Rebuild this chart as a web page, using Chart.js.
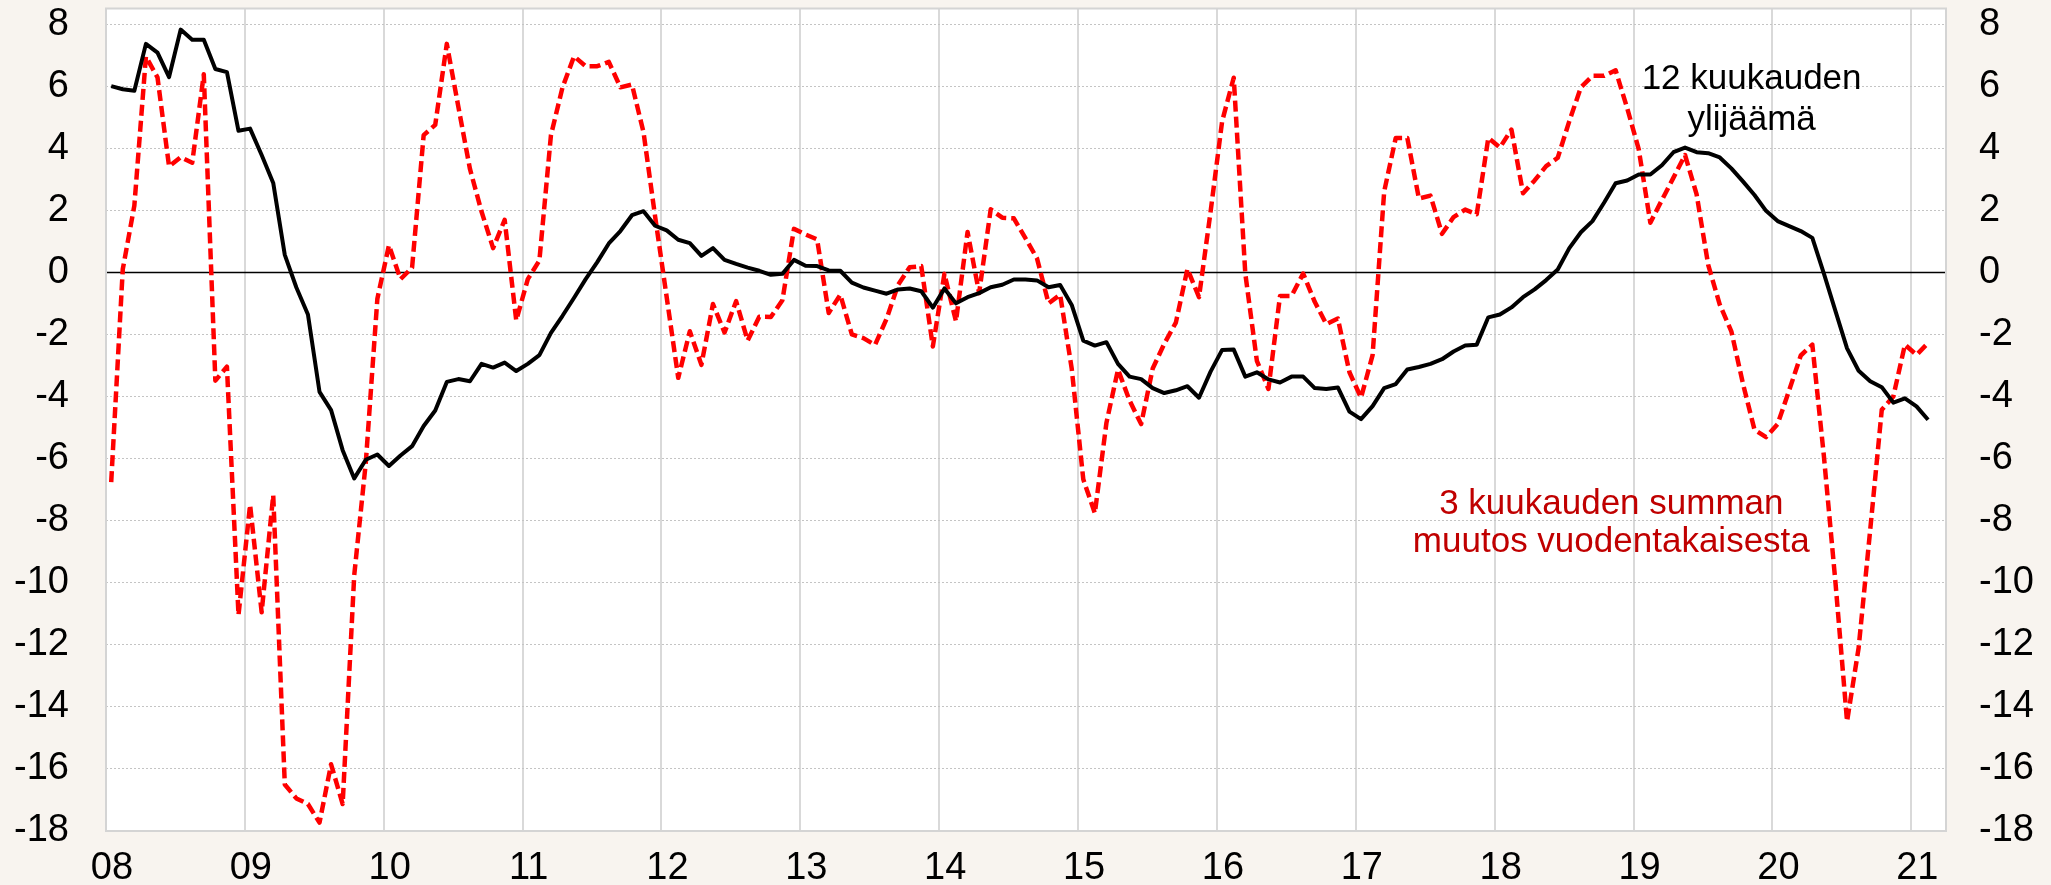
<!DOCTYPE html>
<html>
<head>
<meta charset="utf-8">
<script src="https://cdn.jsdelivr.net/npm/chart.js@4.4.1/dist/chart.umd.min.js"></script>
<style>
html,body{margin:0;padding:0;background:#F8F4EF;overflow:hidden;}
canvas{display:block;}
</style>
</head>
<body>
<canvas id="c" width="2051" height="885"></canvas>
<script>
// ---- data (monthly, Jan 2008 .. Feb 2021) ----
const startYear = 2008;
const yearTickLabels = ['08','09','10','11','12','13','14','15','16','17','18','19','20','21'];
const yTickValues = [-18,-16,-14,-12,-10,-8,-6,-4,-2,0,2,4,6,8];

const surplus12m = [
  6.0, 5.9, 5.85, 7.36, 7.08, 6.29, 7.82, 7.49, 7.49, 6.55, 6.45, 4.56,
  4.63, 3.78, 2.88, 0.56, -0.49, -1.36, -3.85, -4.44, -5.73, -6.64, -6.04, -5.87,
  -6.24, -5.9, -5.6, -4.95, -4.45, -3.53, -3.44, -3.51, -2.95, -3.07, -2.91, -3.18,
  -2.95, -2.67, -1.95, -1.4, -0.82, -0.22, 0.33, 0.93, 1.33, 1.84, 1.97, 1.5,
  1.35, 1.05, 0.94, 0.53, 0.78, 0.4, 0.27, 0.15, 0.05, -0.08, -0.05, 0.4,
  0.21, 0.2, 0.06, 0.05, -0.33, -0.49, -0.59, -0.69, -0.55, -0.52, -0.61, -1.14,
  -0.52, -1.0, -0.8, -0.67, -0.48, -0.4, -0.23, -0.23, -0.26, -0.48, -0.41, -1.05,
  -2.2, -2.36, -2.25, -2.95, -3.36, -3.44, -3.73, -3.89, -3.8, -3.67, -4.04, -3.2,
  -2.5, -2.49, -3.36, -3.22, -3.45, -3.55, -3.36, -3.36, -3.73, -3.76, -3.71, -4.49,
  -4.73, -4.31, -3.73, -3.6, -3.13, -3.05, -2.95, -2.8, -2.55, -2.36, -2.33, -1.45,
  -1.36, -1.13, -0.8, -0.55, -0.25, 0.09, 0.78, 1.29, 1.65, 2.24, 2.87, 2.96,
  3.15, 3.15, 3.45, 3.87, 4.02, 3.87, 3.84, 3.7, 3.35, 2.93, 2.49, 1.98,
  1.65, 1.49, 1.33, 1.11, -0.04, -1.25, -2.45, -3.17, -3.51, -3.7, -4.2, -4.06,
  -4.32, -4.75
];

const change3m = [
  -6.76, 0.1, 2.15, 6.95, 6.28, 3.41, 3.71, 3.53, 6.38, -3.49, -3.04, -11.04,
  -7.49, -10.95, -7.18, -16.5, -16.95, -17.13, -17.73, -15.85, -17.13, -9.76, -6.13, -0.85,
  0.87, -0.22, 0.15, 4.42, 4.75, 7.36, 5.33, 3.33, 1.96, 0.78, 1.69, -1.55,
  -0.22, 0.38, 4.42, 5.96, 6.96, 6.64, 6.64, 6.78, 5.96, 6.05, 4.51, 1.8,
  -0.8, -3.4, -1.9, -2.98, -1.02, -1.94, -0.93, -2.2, -1.43, -1.44, -0.9, 1.4,
  1.22, 1.06, -1.31, -0.72, -2.0, -2.12, -2.34, -1.5, -0.4, 0.16, 0.2, -2.39,
  -0.05, -1.58, 1.3, -0.67, 2.03, 1.76, 1.74, 1.1, 0.45, -1.0, -0.72, -3.1,
  -6.67, -7.76, -4.85, -3.13, -4.13, -4.89, -3.1, -2.3, -1.62, 0.11, -0.8, 1.95,
  4.87, 6.27, -0.04, -2.85, -3.76, -0.76, -0.76, -0.04, -0.95, -1.67, -1.49, -3.22,
  -4.04, -2.67, 2.6, 4.33, 4.33, 2.38, 2.47, 1.24, 1.78, 2.02, 1.87, 4.33,
  4.02, 4.6, 2.55, 2.96, 3.42, 3.69, 4.87, 5.96, 6.33, 6.33, 6.51, 5.29,
  3.96, 1.6, 2.33, 3.05, 3.78, 2.51, 0.24, -1.04, -1.9, -3.58, -5.07, -5.31,
  -4.89, -3.8, -2.68, -2.33, -5.93, -10.0, -14.47, -12.1, -8.3, -4.43, -4.0, -2.33,
  -2.66, -2.28
];

const labelSurplus = ['12 kuukauden', 'ylijäämä'];
const labelChange = ['3 kuukauden summan', 'muutos vuodentakaisesta'];

// ---- chart ----
const monthPos = surplus12m.map((_, i) => startYear + (i + 0.45) / 12);
const toPoints = arr => arr.map((v, i) => ({ x: monthPos[i], y: v }));

const FONT = 'Liberation Sans, Arial, Helvetica, sans-serif';
Chart.defaults.font.family = FONT;
Chart.defaults.color = '#000000';

const setYTicks = s => { s.ticks = yTickValues.map(v => ({ value: v })); };
const setXTicks = s => { s.ticks = yearTickLabels.map((_, k) => ({ value: startYear + k })); };
const noPad = s => { s.paddingTop = 0; s.paddingBottom = 0; s.paddingLeft = 0; s.paddingRight = 0; };

const decor = {
  id: 'decor',
  beforeDraw(chart) {
    const { ctx, chartArea: a } = chart;
    ctx.save();
    ctx.fillStyle = '#FFFFFF';
    ctx.fillRect(a.left, a.top, a.right - a.left, a.bottom - a.top);
    ctx.restore();
  },
  beforeDatasetsDraw(chart) {
    const { ctx, chartArea: a, scales } = chart;
    ctx.save();
    const y0 = Math.round(scales.y.getPixelForValue(0)) + 0.5;
    ctx.strokeStyle = '#000000';
    ctx.lineWidth = 1.3;
    ctx.beginPath();
    ctx.moveTo(a.left, y0);
    ctx.lineTo(a.right, y0);
    ctx.stroke();
    ctx.strokeStyle = '#D4D4D4';
    ctx.lineWidth = 2;
    ctx.strokeRect(a.left, a.top, a.right - a.left, a.bottom - a.top);
    ctx.restore();
  },
  afterDatasetsDraw(chart) {
    const { ctx, scales } = chart;
    const x = scales.x, y = scales.y;
    ctx.save();
    ctx.font = '35px ' + FONT;
    ctx.textAlign = 'center';
    ctx.textBaseline = 'middle';
    ctx.fillStyle = '#000000';
    ctx.fillText(labelSurplus[0], x.getPixelForValue(2019.85), y.getPixelForValue(6.23));
    ctx.fillText(labelSurplus[1], x.getPixelForValue(2019.85), y.getPixelForValue(4.91));
    ctx.fillStyle = '#C00000';
    ctx.fillText(labelChange[0], x.getPixelForValue(2018.84), y.getPixelForValue(-7.49));
    ctx.fillText(labelChange[1], x.getPixelForValue(2018.84), y.getPixelForValue(-8.71));
    ctx.restore();
  }
};

new Chart(document.getElementById('c'), {
  type: 'line',
  data: {
    datasets: [
      {
        label: labelSurplus.join(' '),
        data: toPoints(surplus12m),
        borderColor: '#000000',
        borderWidth: 4,
        pointRadius: 0,
        tension: 0,
        borderJoinStyle: 'round',
        yAxisID: 'y'
      },
      {
        label: labelChange.join(' '),
        data: toPoints(change3m),
        borderColor: '#FF0000',
        borderWidth: 4.5,
        borderDash: [11, 5],
        pointRadius: 0,
        tension: 0,
        borderJoinStyle: 'round',
        yAxisID: 'y'
      }
    ]
  },
  options: {
    responsive: false,
    devicePixelRatio: 1,
    animation: false,
    events: [],
    layout: { autoPadding: false, padding: { top: 8.5, left: 0, right: 0, bottom: 0 } },
    plugins: { legend: { display: false }, tooltip: { enabled: false } },
    scales: {
      x: {
        type: 'linear',
        min: startYear,
        max: startYear + 159 / 12,
        afterBuildTicks: setXTicks,
        afterFit: s => { noPad(s); s.height = 54; },
        ticks: {
          autoSkip: false,
          maxRotation: 0,
          padding: 15,
          labelOffset: 6,
          font: { size: 38 },
          color: '#000000',
          callback: v => yearTickLabels[Math.round(v - startYear)]
        },
        grid: { color: '#D9D9D9', lineWidth: 2, drawTicks: false },
        border: { display: false }
      },
      y: {
        position: 'left',
        min: -18,
        max: 8.5,
        afterBuildTicks: setYTicks,
        afterFit: s => { noPad(s); s.width = 106; },
        ticks: {
          padding: 37,
          font: { size: 38 },
          color: '#000000',
          callback: v => String(v)
        },
        grid: { color: '#C4C4C4', lineWidth: 1, drawTicks: false },
        border: { display: false, dash: [2, 2] }
      },
      y2: {
        position: 'right',
        min: -18,
        max: 8.5,
        afterBuildTicks: setYTicks,
        afterFit: s => { noPad(s); s.width = 105; },
        ticks: {
          padding: 33,
          font: { size: 38 },
          color: '#000000',
          callback: v => String(v)
        },
        grid: { display: false, drawTicks: false },
        border: { display: false }
      }
    }
  },
  plugins: [decor]
});
</script>
</body>
</html>
